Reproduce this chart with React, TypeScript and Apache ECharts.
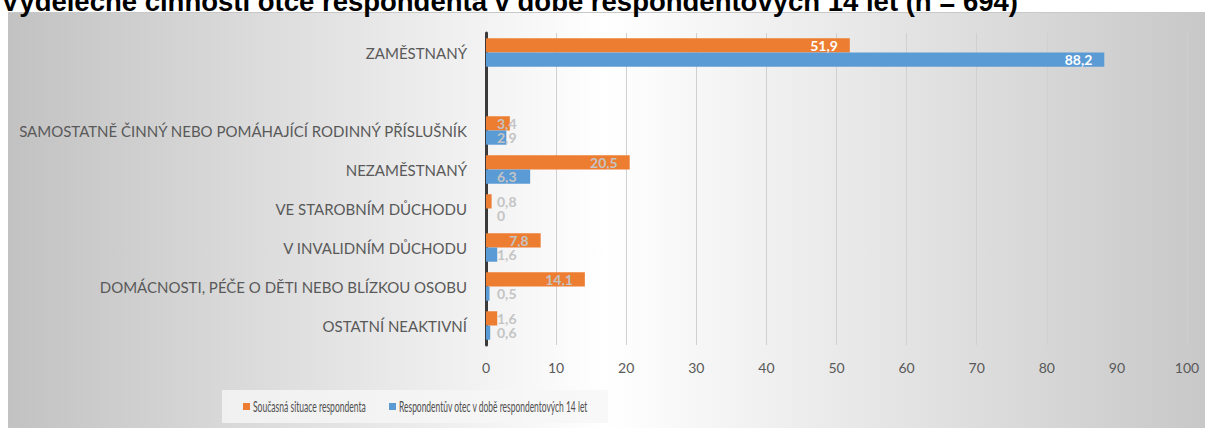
import React, { useEffect, useRef } from "react";
import * as echarts from "echarts";

const categories = [
  "ZAMĚSTNANÝ",
  "",
  "SAMOSTATNĚ ČINNÝ NEBO POMÁHAJÍCÍ RODINNÝ PŘÍSLUŠNÍK",
  "NEZAMĚSTNANÝ",
  "VE STAROBNÍM DŮCHODU",
  "V INVALIDNÍM DŮCHODU",
  "DOMÁCNOSTI, PÉČE O DĚTI NEBO BLÍZKOU OSOBU",
  "OSTATNÍ NEAKTIVNÍ",
];
const currentSituation = [51.9, null, 3.4, 20.5, 0.8, 7.8, 14.1, 1.6];
const fatherAt14 = [88.2, null, 2.9, 6.3, 0, 1.6, 0.5, 0.6];
const seriesNames = [
  "Současná situace respondenta",
  "Respondentův otec v době respondentových 14 let",
];
const seriesColors = ["#ED7D31", "#5B9BD5"];
const titleText =
  "Výdělečné činnosti otce respondenta v době respondentových 14 let (n = 694)";

const FONT = "Lato";

function toData(values: (number | null)[]) {
  return values.map((v) => {
    if (v === null) return null;
    const small = v < 6.5;
    return {
      value: v,
      label: {
        show: true,
        position: small ? "insideLeft" : "insideRight",
        distance: small ? 11 : 12,
        color: v > 30 ? "#ffffff" : "#c4c4c4",
        fontFamily: FONT,
        fontSize: 14,
        lineHeight: 12,
        fontWeight: "bold",
        formatter: (p: any) => String(p.value).replace(".", ","),
      },
    };
  });
}

function measure(text: string, font: string): number {
  const ctx = document.createElement("canvas").getContext("2d");
  if (!ctx) return text.length * 6;
  ctx.font = font;
  return ctx.measureText(text).width;
}

export default function App() {
  const ref = useRef<HTMLDivElement>(null);
  useEffect(() => {
    document.body.style.margin = "0";
    const chart = echarts.init(ref.current!, null, { renderer: "svg" });

    const legendFont = "14.5px Lato";
    const legendTargets = [113, 189];
    const legendX = [243, 389];
    const legendItems: any[] = [];
    seriesNames.forEach((name, i) => {
      const w = measure(name, legendFont);
      legendItems.push({
        type: "rect",
        shape: { x: legendX[i], y: 403, width: 7, height: 7 },
        style: { fill: seriesColors[i] },
      });
      legendItems.push({
        type: "text",
        x: legendX[i] + 10,
        y: 406.5,
        scaleX: legendTargets[i] / w,
        style: {
          text: name,
          fill: "#505050",
          font: legendFont,
          textVerticalAlign: "middle",
        },
      });
    });

    chart.setOption({
      animation: false,
      graphic: [
        {
          type: "rect",
          z: -10,
          silent: true,
          shape: { x: 8, y: 13, width: 1197, height: 415 },
          style: {
            fill: new echarts.graphic.LinearGradient(0, 0, 1, 0, [
              { offset: 0, color: "#c2c2c2" },
              { offset: 0.5, color: "#ffffff" },
              { offset: 1, color: "#c8c8c8" },
            ]),
          },
        },
        {
          type: "line",
          z: -9,
          silent: true,
          shape: { x1: 8, y1: 12.5, x2: 1205, y2: 12.5 },
          style: { stroke: "#c8c8c8", lineWidth: 1 },
        },
        {
          type: "text",
          x: 1,
          y: 15,
          style: {
            text: titleText,
            fill: "#000000",
            font: "bold 27.5px 'Liberation Sans', Arial, sans-serif",
            textVerticalAlign: "bottom",
          },
        },
        {
          type: "rect",
          silent: true,
          shape: { x: 222, y: 390, width: 386, height: 33 },
          style: { fill: "rgba(246,246,246,0.8)" },
        },
        ...legendItems,
      ],
      grid: { left: 486, right: 18, top: 33, bottom: 83, containLabel: false },
      xAxis: {
        type: "value",
        min: 0,
        max: 100,
        interval: 10,
        axisLine: { show: false },
        axisTick: { show: false },
        axisLabel: {
          color: "#595959",
          fontFamily: FONT,
          fontSize: 14,
          margin: 15,
        },
        splitLine: { lineStyle: { color: "#d0d0d0", width: 1 } },
      },
      yAxis: {
        type: "category",
        inverse: true,
        data: categories,
        axisLine: { show: true, lineStyle: { color: "#3a3a3a", width: 3 } },
        axisTick: { show: false },
        axisLabel: {
          color: "#595959",
          fontFamily: FONT,
          fontSize: 15,
          margin: 19,
        },
      },
      series: [
        {
          name: seriesNames[0],
          type: "bar",
          data: toData(currentSituation),
          itemStyle: { color: seriesColors[0] },
          barGap: "0%",
          barCategoryGap: "27%",
        },
        {
          name: seriesNames[1],
          type: "bar",
          data: toData(fatherAt14),
          itemStyle: { color: seriesColors[1] },
          barGap: "0%",
          barCategoryGap: "27%",
        },
      ],
    });
    return () => chart.dispose();
  }, []);
  return <div ref={ref} style={{ width: 1205, height: 428 }} />;
}
